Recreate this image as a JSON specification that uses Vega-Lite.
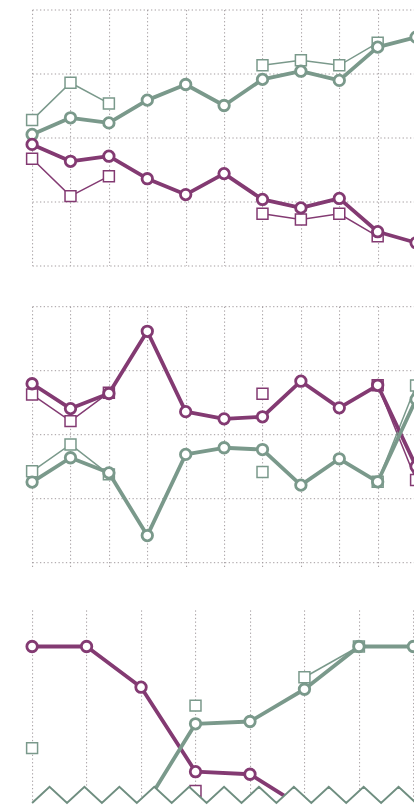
{
  "$schema": "https://vega.github.io/schema/vega-lite/v6.json",
  "padding": {"left": 21.1, "top": 9.5, "right": 0, "bottom": 0},
  "background": "white",
  "bounds": "flush",
  "spacing": 40.7,
  "config": {
    "view": {"stroke": null},
    "axis": {"grid": true, "gridColor": "#a39c9f", "gridDash": [1.3, 2.4], "gridWidth": 1, "labels": false, "ticks": false, "domain": false}
  },
  "datasets": {
    "main": [
      {"p":1,"s":"g","k":"c","i":0,"v":51.2,"seg":1},{"p":1,"s":"g","k":"c","i":1,"v":57.7,"seg":1},{"p":1,"s":"g","k":"c","i":2,"v":55.7,"seg":1},{"p":1,"s":"g","k":"c","i":3,"v":64.6,"seg":1},{"p":1,"s":"g","k":"c","i":4,"v":70.7,"seg":1},{"p":1,"s":"g","k":"c","i":5,"v":62.5,"seg":1},{"p":1,"s":"g","k":"c","i":6,"v":72.7,"seg":1},{"p":1,"s":"g","k":"c","i":7,"v":75.9,"seg":1},{"p":1,"s":"g","k":"c","i":8,"v":72.3,"seg":1},{"p":1,"s":"g","k":"c","i":9,"v":85.3,"seg":1},{"p":1,"s":"g","k":"c","i":10,"v":89.2,"seg":1},
      {"p":1,"s":"p","k":"c","i":0,"v":47.3,"seg":1},{"p":1,"s":"p","k":"c","i":1,"v":40.7,"seg":1},{"p":1,"s":"p","k":"c","i":2,"v":42.7,"seg":1},{"p":1,"s":"p","k":"c","i":3,"v":33.9,"seg":1},{"p":1,"s":"p","k":"c","i":4,"v":27.7,"seg":1},{"p":1,"s":"p","k":"c","i":5,"v":35.9,"seg":1},{"p":1,"s":"p","k":"c","i":6,"v":25.8,"seg":1},{"p":1,"s":"p","k":"c","i":7,"v":22.5,"seg":1},{"p":1,"s":"p","k":"c","i":8,"v":26.2,"seg":1},{"p":1,"s":"p","k":"c","i":9,"v":13.2,"seg":1},{"p":1,"s":"p","k":"c","i":10,"v":8.9,"seg":1},
      {"p":1,"s":"g","k":"sq","i":0,"v":56.8,"seg":1},{"p":1,"s":"g","k":"sq","i":1,"v":71.4,"seg":1},{"p":1,"s":"g","k":"sq","i":2,"v":63.3,"seg":1},{"p":1,"s":"g","k":"sq","i":6,"v":78.2,"seg":2},{"p":1,"s":"g","k":"sq","i":7,"v":80.2,"seg":2},{"p":1,"s":"g","k":"sq","i":8,"v":78.2,"seg":2},{"p":1,"s":"g","k":"sq","i":9,"v":87.0,"seg":2},
      {"p":1,"s":"p","k":"sq","i":0,"v":41.7,"seg":1},{"p":1,"s":"p","k":"sq","i":1,"v":27.1,"seg":1},{"p":1,"s":"p","k":"sq","i":2,"v":34.9,"seg":1},{"p":1,"s":"p","k":"sq","i":6,"v":20.2,"seg":2},{"p":1,"s":"p","k":"sq","i":7,"v":18.0,"seg":2},{"p":1,"s":"p","k":"sq","i":8,"v":20.2,"seg":2},{"p":1,"s":"p","k":"sq","i":9,"v":11.4,"seg":2},

      {"p":2,"s":"p","k":"c","i":0,"v":69.7,"seg":1},{"p":2,"s":"p","k":"c","i":1,"v":60.0,"seg":1},{"p":2,"s":"p","k":"c","i":2,"v":65.9,"seg":1},{"p":2,"s":"p","k":"c","i":3,"v":90.2,"seg":1},{"p":2,"s":"p","k":"c","i":4,"v":58.8,"seg":1},{"p":2,"s":"p","k":"c","i":5,"v":56.0,"seg":1},{"p":2,"s":"p","k":"c","i":6,"v":56.8,"seg":1},{"p":2,"s":"p","k":"c","i":7,"v":70.7,"seg":1},{"p":2,"s":"p","k":"c","i":8,"v":60.3,"seg":1},{"p":2,"s":"p","k":"c","i":9,"v":69.1,"seg":1},{"p":2,"s":"p","k":"c","i":10,"v":37.4,"seg":1},
      {"p":2,"s":"g","k":"c","i":0,"v":31.3,"seg":1},{"p":2,"s":"g","k":"c","i":1,"v":40.8,"seg":1},{"p":2,"s":"g","k":"c","i":2,"v":34.9,"seg":1},{"p":2,"s":"g","k":"c","i":3,"v":10.4,"seg":1},{"p":2,"s":"g","k":"c","i":4,"v":42.1,"seg":1},{"p":2,"s":"g","k":"c","i":5,"v":44.7,"seg":1},{"p":2,"s":"g","k":"c","i":6,"v":44.0,"seg":1},{"p":2,"s":"g","k":"c","i":7,"v":30.1,"seg":1},{"p":2,"s":"g","k":"c","i":8,"v":40.4,"seg":1},{"p":2,"s":"g","k":"c","i":9,"v":31.4,"seg":1},{"p":2,"s":"g","k":"c","i":10,"v":63.6,"seg":1},
      {"p":2,"s":"p","k":"sq","i":0,"v":65.5,"seg":1},{"p":2,"s":"p","k":"sq","i":1,"v":55.1,"seg":1},{"p":2,"s":"p","k":"sq","i":2,"v":66.2,"seg":1},{"p":2,"s":"p","k":"sq","i":6,"v":65.8,"seg":2},{"p":2,"s":"p","k":"sq","i":9,"v":69.1,"seg":3},{"p":2,"s":"p","k":"sq","i":10,"v":32.1,"seg":3},
      {"p":2,"s":"g","k":"sq","i":0,"v":35.5,"seg":1},{"p":2,"s":"g","k":"sq","i":1,"v":46.0,"seg":1},{"p":2,"s":"g","k":"sq","i":2,"v":34.3,"seg":1},{"p":2,"s":"g","k":"sq","i":6,"v":35.2,"seg":2},{"p":2,"s":"g","k":"sq","i":9,"v":31.4,"seg":3},{"p":2,"s":"g","k":"sq","i":10,"v":69.0,"seg":3},

      {"p":3,"s":"p","k":"c","i":0,"v":85.7,"seg":1},{"p":3,"s":"p","k":"c","i":1,"v":85.7,"seg":1},{"p":3,"s":"p","k":"c","i":2,"v":69.8,"seg":1},{"p":3,"s":"p","k":"c","i":3,"v":36.8,"seg":1},{"p":3,"s":"p","k":"c","i":4,"v":35.8,"seg":1},{"p":3,"s":"p","k":"c","i":5,"v":22.5,"seg":1},
      {"p":3,"s":"g","k":"c","i":2,"v":21.1,"seg":1},{"p":3,"s":"g","k":"c","i":3,"v":55.5,"seg":1},{"p":3,"s":"g","k":"c","i":4,"v":56.4,"seg":1},{"p":3,"s":"g","k":"c","i":5,"v":69.0,"seg":1},{"p":3,"s":"g","k":"c","i":6,"v":85.7,"seg":1},{"p":3,"s":"g","k":"c","i":7,"v":85.7,"seg":1},
      {"p":3,"s":"g","k":"sq","i":0,"v":46.0,"seg":1},{"p":3,"s":"g","k":"sq","i":3,"v":62.6,"seg":2},{"p":3,"s":"g","k":"sq","i":5,"v":73.7,"seg":3},{"p":3,"s":"g","k":"sq","i":6,"v":85.7,"seg":3},
      {"p":3,"s":"p","k":"sq","i":3,"v":29.3,"seg":1}
    ],
    "zig": [
      {"k":0,"v":24.6},{"k":1,"v":30.9},{"k":2,"v":24.6},{"k":3,"v":30.9},{"k":4,"v":24.6},{"k":5,"v":30.9},{"k":6,"v":24.6},{"k":7,"v":30.9},{"k":8,"v":24.6},{"k":9,"v":30.9},{"k":10,"v":24.6},{"k":11,"v":30.9},{"k":12,"v":24.6},{"k":13,"v":30.9},{"k":14,"v":24.6},{"k":15,"v":30.9},{"k":16,"v":24.6},{"k":17,"v":30.9},{"k":18,"v":24.6},{"k":19,"v":30.9},{"k":20,"v":24.6},{"k":21,"v":30.9},{"k":22,"v":24.6}
    ]
  },
  "vconcat": [
    {
      "width": 381.3, "height": 256,
      "data": {"name": "main"},
      "transform": [{"filter": "datum.p == 1"}],
      "encoding": {
        "x": {"field": "i", "type": "quantitative", "scale": {"domain": [0, 9.93], "nice": false, "zero": false}, "axis": {"values": [0,1,2,3,4,5,6,7,8,9], "title": null}},
        "y": {"field": "v", "type": "quantitative", "scale": {"domain": [0, 100], "nice": false, "zero": false}, "axis": {"values": [0,25,50,75,100], "title": null}},
        "color": {"field": "s", "type": "nominal", "scale": {"domain": ["g","p"], "range": ["#7a998b","#833a72"]}, "legend": null}
      },
      "layer": [
        {"transform": [{"filter": "datum.k == 'sq'"}], "mark": {"type": "line", "strokeWidth": 1.5}, "encoding": {"detail": {"field": "seg", "type": "nominal"}}},
        {"transform": [{"filter": "datum.k == 'sq'"}], "mark": {"type": "point", "shape": "square", "filled": false, "fill": "white", "fillOpacity": 1, "opacity": 1, "size": 120, "strokeWidth": 1.5}},
        {"transform": [{"filter": "datum.k == 'c'"}], "mark": {"type": "line", "strokeWidth": 3.8, "strokeJoin": "round"}},
        {"transform": [{"filter": "datum.k == 'c'"}], "mark": {"type": "point", "shape": "circle", "filled": false, "fill": "white", "fillOpacity": 1, "opacity": 1, "size": 110, "strokeWidth": 2.8}}
      ]
    },
    {
      "width": 381.3, "height": 262.6,
      "data": {"name": "main"},
      "transform": [{"filter": "datum.p == 2"}],
      "encoding": {
        "x": {"field": "i", "type": "quantitative", "scale": {"domain": [0, 9.93], "nice": false, "zero": false}, "axis": {"values": [0,1,2,3,4,5,6,7,8,9], "title": null}},
        "y": {"field": "v", "type": "quantitative", "scale": {"domain": [-2.58, 100], "nice": false, "zero": false}, "axis": {"values": [0,25,50,75,100], "title": null}},
        "color": {"field": "s", "type": "nominal", "scale": {"domain": ["g","p"], "range": ["#7a998b","#833a72"]}, "legend": null}
      },
      "layer": [
        {"transform": [{"filter": "datum.k == 'sq'"}], "mark": {"type": "line", "strokeWidth": 1.5}, "encoding": {"detail": {"field": "seg", "type": "nominal"}}},
        {"transform": [{"filter": "datum.k == 'sq'"}], "mark": {"type": "point", "shape": "square", "filled": false, "fill": "white", "fillOpacity": 1, "opacity": 1, "size": 120, "strokeWidth": 1.5}},
        {"transform": [{"filter": "datum.k == 'c'"}], "mark": {"type": "line", "strokeWidth": 3.8, "strokeJoin": "round"}},
        {"transform": [{"filter": "datum.k == 'c'"}], "mark": {"type": "point", "shape": "circle", "filled": false, "fill": "white", "fillOpacity": 1, "opacity": 1, "size": 110, "strokeWidth": 2.8}}
      ]
    },
    {
      "width": 381.3, "height": 195,
      "resolve": {"scale": {"x": "independent"}},
      "layer": [
        {
          "data": {"name": "main"},
          "transform": [{"filter": "datum.p == 3"}],
          "encoding": {
            "x": {"field": "i", "type": "quantitative", "scale": {"domain": [0, 7], "nice": false, "zero": false}, "axis": {"values": [0,1,2,3,4,5,6,7], "title": null}},
            "y": {"field": "v", "type": "quantitative", "scale": {"domain": [23.83, 100], "nice": false, "zero": false}, "axis": {"values": [25,50,75,100], "title": null}},
            "color": {"field": "s", "type": "nominal", "scale": {"domain": ["g","p"], "range": ["#7a998b","#833a72"]}, "legend": null}
          },
          "layer": [
            {"transform": [{"filter": "datum.k == 'sq'"}], "mark": {"type": "line", "strokeWidth": 1.5}, "encoding": {"detail": {"field": "seg", "type": "nominal"}}},
            {"transform": [{"filter": "datum.k == 'sq'"}], "mark": {"type": "point", "shape": "square", "filled": false, "fill": "white", "fillOpacity": 1, "opacity": 1, "size": 120, "strokeWidth": 1.5}},
            {"transform": [{"filter": "datum.k == 'c'"}], "mark": {"type": "line", "strokeWidth": 3.8, "strokeJoin": "round"}},
            {"transform": [{"filter": "datum.k == 'c'"}], "mark": {"type": "point", "shape": "circle", "filled": false, "fill": "white", "fillOpacity": 1, "opacity": 1, "size": 110, "strokeWidth": 2.8}}
          ]
        },
        {
          "data": {"name": "zig"},
          "mark": {"type": "area", "color": "white", "opacity": 1},
          "encoding": {
            "x": {"field": "k", "type": "quantitative", "scale": {"domain": [0, 21.85], "nice": false, "zero": false}, "axis": null},
            "y": {"field": "v", "type": "quantitative", "scale": {"domain": [23.83, 100], "nice": false, "zero": false}, "axis": null},
            "y2": {"datum": 23.83}
          }
        },
        {
          "data": {"name": "zig"},
          "mark": {"type": "line", "color": "#6f8e80", "strokeWidth": 2},
          "encoding": {
            "x": {"field": "k", "type": "quantitative", "scale": {"domain": [0, 21.85], "nice": false, "zero": false}, "axis": null},
            "y": {"field": "v", "type": "quantitative", "scale": {"domain": [23.83, 100], "nice": false, "zero": false}, "axis": null}
          }
        }
      ]
    }
  ]
}
